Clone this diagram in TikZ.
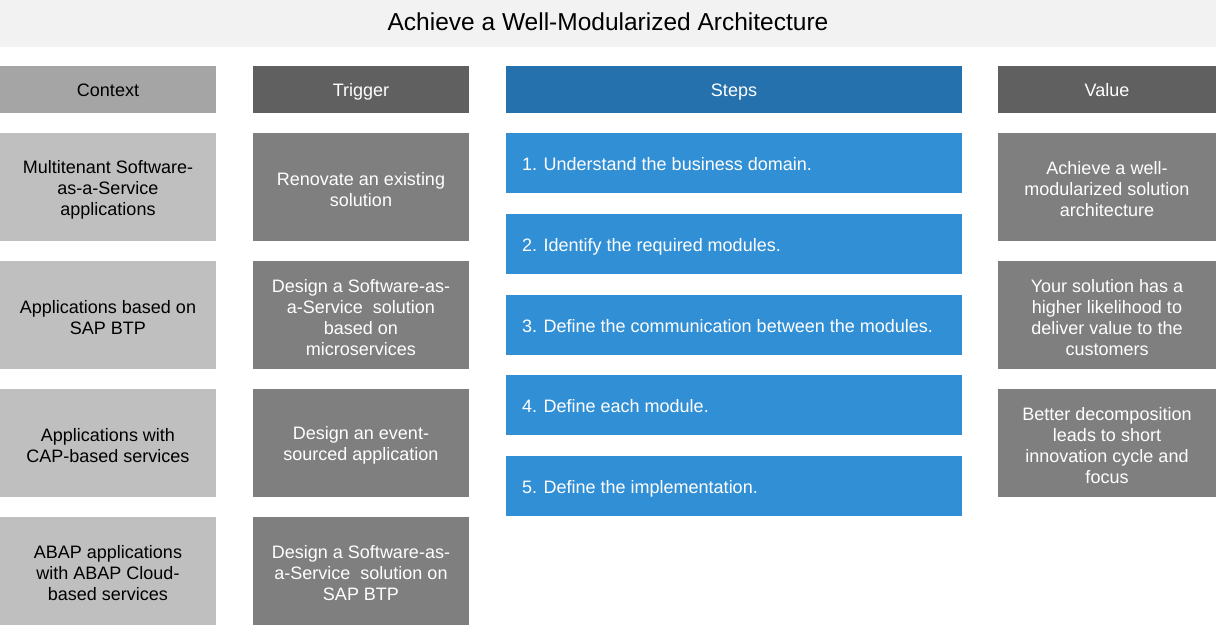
\documentclass[tikz,border=0pt]{standalone}
\usepackage{fontspec}
\setmainfont{Liberation Sans}
\definecolor{titlebg}{HTML}{F2F2F2}
\definecolor{ctxhead}{HTML}{A5A5A5}
\definecolor{darkhead}{HTML}{606060}
\definecolor{stephead}{HTML}{2471AD}
\definecolor{stepbg}{HTML}{318FD6}
\definecolor{ctxbg}{HTML}{BFBFBF}
\definecolor{midbg}{HTML}{7F7F7F}
\begin{document}
\begin{tikzpicture}[x=1pt,y=-1pt,
  txt/.style={font=\fontsize{18}{21}\selectfont,inner sep=0pt,outer sep=0pt},
  box/.style={anchor=north west,inner sep=0pt,outer sep=0pt},
  headbox/.style={box,minimum height=47pt,minimum width=216pt},
  bigbox/.style={box,minimum height=108pt,minimum width=216pt},
  stepbox/.style={box,fill=stepbg,minimum width=456pt,minimum height=60pt},
  ctext/.style={txt,align=center,text height=13pt,text depth=4pt},
  mtext/.style={txt,align=center},
  steptext/.style={txt,anchor=west,text=white,text height=13pt,text depth=4pt}]
\useasboundingbox (0,0) rectangle (1216,626);
\fill[white] (0,0) rectangle (1216,626);
\node[box,fill=titlebg,minimum width=1216pt,minimum height=47pt] (title) at (0,0) {};
\node[txt,text height=16pt,text depth=5pt,font=\fontsize{24.5}{28}\selectfont] (titlet) at ([yshift=-2pt]title.center) {Achieve a Well-Modularized Architecture};
% headers
\node[headbox,fill=ctxhead] (hctx) at (0,66) {};
\node[ctext,text=black] (hctxt) at ([yshift=-2.5pt]hctx.center) {Context};
\node[headbox,fill=darkhead] (htrg) at (253,66) {};
\node[ctext,text=white] (htrgt) at ([yshift=-2.5pt]htrg.center) {Trigger};
\node[headbox,fill=stephead,minimum width=456pt] (hstp) at (506,66) {};
\node[ctext,text=white] (hstpt) at ([yshift=-2.5pt]hstp.center) {Steps};
\node[headbox,fill=darkhead,minimum width=218pt] (hval) at (998,66) {};
\node[ctext,text=white] (hvalt) at ([yshift=-2.5pt]hval.center) {Value};
% context
\node[bigbox,fill=ctxbg] (c1) at (0,133) {};
\node[mtext] (c1t) at ([yshift=-2.5pt]c1.center) {Multitenant Software-\\as-a-Service\\applications};
\node[bigbox,fill=ctxbg] (c2) at (0,261) {};
\node[mtext] (c2t) at ([yshift=-2.5pt]c2.center) {Applications based on\\SAP BTP};
\node[bigbox,fill=ctxbg] (c3) at (0,389) {};
\node[mtext] (c3t) at ([yshift=-2.5pt]c3.center) {Applications with\\CAP-based services};
\node[bigbox,fill=ctxbg] (c4) at (0,517) {};
\node[mtext] (c4t) at ([yshift=-2.5pt]c4.center) {ABAP applications\\with ABAP Cloud-\\based services};
% trigger
\node[bigbox,fill=midbg] (t1) at (253,133) {};
\node[mtext,text=white] (t1t) at ([yshift=-2.5pt]t1.center) {Renovate an existing\\solution};
\node[bigbox,fill=midbg] (t2) at (253,261) {};
\node[mtext,text=white] (t2t) at ([yshift=-2.5pt]t2.center) {Design a Software-as-\\a-Service\ \ solution\\based on\\microservices};
\node[bigbox,fill=midbg] (t3) at (253,389) {};
\node[mtext,text=white] (t3t) at ([yshift=-2.5pt]t3.center) {Design an event-\\sourced application};
\node[bigbox,fill=midbg] (t4) at (253,517) {};
\node[mtext,text=white] (t4t) at ([yshift=-2.5pt]t4.center) {Design a Software-as-\\a-Service\ \ solution on\\SAP BTP};
% steps
\node[stepbox] (s1) at (506,133) {};
\node[steptext] (s1t) at ([xshift=16pt,yshift=-2.5pt]s1.west) {1. Understand the business domain.};
\node[stepbox] (s2) at (506,214) {};
\node[steptext] (s2t) at ([xshift=16pt,yshift=-2.5pt]s2.west) {2. Identify the required modules.};
\node[stepbox] (s3) at (506,295) {};
\node[steptext] (s3t) at ([xshift=16pt,yshift=-2.5pt]s3.west) {3. Define the communication between the modules.};
\node[stepbox] (s4) at (506,375) {};
\node[steptext] (s4t) at ([xshift=16pt,yshift=-2.5pt]s4.west) {4. Define each module.};
\node[stepbox] (s5) at (506,456) {};
\node[steptext] (s5t) at ([xshift=16pt,yshift=-2.5pt]s5.west) {5. Define the implementation.};
% value
\node[bigbox,fill=midbg,minimum width=218pt] (v1) at (998,133) {};
\node[mtext,text=white] (v1t) at ([yshift=-2.5pt]v1.center) {Achieve a well-\\modularized solution\\architecture};
\node[bigbox,fill=midbg,minimum width=218pt] (v2) at (998,261) {};
\node[mtext,text=white] (v2t) at ([yshift=-2.5pt]v2.center) {Your solution has a\\higher likelihood to\\deliver value to the\\customers};
\node[bigbox,fill=midbg,minimum width=218pt] (v3) at (998,389) {};
\node[mtext,text=white] (v3t) at ([yshift=-2.5pt]v3.center) {Better decomposition\\leads to short\\innovation cycle and\\focus};
\end{tikzpicture}
\end{document}
